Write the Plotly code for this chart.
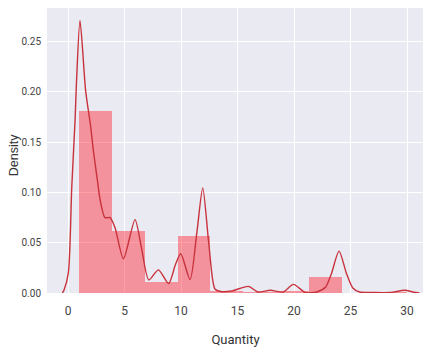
import plotly.graph_objects as go

# Histogram (density) bins
bin_edges = [1.0, 3.9, 6.8, 9.7, 12.6, 15.5, 18.4, 21.3, 24.2, 27.1, 30.0]
bin_density = [0.181, 0.062, 0.0105, 0.057, 0.0015, 0.0012, 0.0015, 0.0155, 0.0005, 0.0008]

# KDE curve
kde_x = [-0.5, -0.35, 0.03, 0.33, 0.62, 0.75, 1.06, 1.56, 2.0, 2.24, 2.6, 2.85, 3.27, 3.72,
         4.16, 4.9, 5.93, 6.5, 7.15, 8.0, 8.9, 9.5, 9.97, 10.8, 11.4, 11.92, 12.45, 13.0,
         13.5, 14.5, 15.96, 16.8, 17.9, 19.05, 19.94, 21.0, 22.0, 22.8, 23.3, 23.98, 24.65,
         25.2, 25.8, 27.0, 28.5, 29.8, 30.6, 31.1]
kde_y = [0.0, 0.003, 0.02, 0.105, 0.171, 0.21, 0.271, 0.201, 0.166, 0.142, 0.112, 0.092,
         0.075, 0.075, 0.065, 0.034, 0.073, 0.045, 0.013, 0.023, 0.0093, 0.028, 0.039,
         0.0133, 0.06, 0.1046, 0.05, 0.004, 0.0015, 0.002, 0.0066, 0.001, 0.0027, 0.001,
         0.0086, 0.0005, 0.001, 0.006, 0.019, 0.0417, 0.019, 0.005, 0.001, 0.0005, 0.0005,
         0.0027, 0.0008, 0.0]

x_ticks = [0, 5, 10, 15, 20, 25, 30]
y_ticks = [0.0, 0.05, 0.10, 0.15, 0.20, 0.25]
y_tick_labels = ["0.00", "0.05", "0.10", "0.15", "0.20", "0.25"]

centers = [(a + b) / 2 for a, b in zip(bin_edges[:-1], bin_edges[1:])]
widths = [b - a for a, b in zip(bin_edges[:-1], bin_edges[1:])]

fig = go.Figure()
fig.add_trace(go.Bar(
    x=centers, y=bin_density, width=widths,
    marker=dict(color="rgba(255,40,50,0.45)", line=dict(width=0)),
    showlegend=False, hoverinfo="skip",
))
fig.add_trace(go.Scatter(
    x=kde_x, y=kde_y, mode="lines",
    line=dict(color="#c8323c", width=1.4, shape="spline", smoothing=0.7),
    showlegend=False, hoverinfo="skip",
))

tickfam = "Roboto, Liberation Sans, sans-serif"
fig.update_layout(
    width=423, height=346,
    margin=dict(l=39, r=7, t=0, b=61, autoexpand=False),
    paper_bgcolor="white",
    plot_bgcolor="#EAEAF2",
    bargap=0,
    font=dict(family=tickfam, size=11, color="#333333"),
    xaxis=dict(
        range=[-1.86, 31.5], tickvals=x_ticks, showgrid=True, gridcolor="white",
        gridwidth=1.3, zeroline=False, showline=False, automargin=False,
        ticks="outside", ticklen=7, tickcolor="rgba(0,0,0,0)",
        title=dict(text="Quantity", font=dict(family=tickfam, size=13, color="#333333"), standoff=17),
        tickfont=dict(family=tickfam, size=12, color="#444444"),
    ),
    yaxis=dict(
        range=[0, 0.2835], tickvals=y_ticks, ticktext=y_tick_labels, showgrid=True,
        gridcolor="white", gridwidth=1.3, zeroline=False, showline=False,
        ticks="outside", ticklen=3, tickcolor="rgba(0,0,0,0)",
        automargin=False,
        tickfont=dict(family=tickfam, size=10, color="#444444"),
    ),
    annotations=[dict(
        text="Density", textangle=-90, xref="paper", yref="paper",
        x=-0.087, y=0.484, xanchor="center", yanchor="middle", showarrow=False,
        font=dict(family="Liberation Sans, Arial, sans-serif", size=12.5, color="#333333"),
    )],
)

fig.write_html("out.html")
